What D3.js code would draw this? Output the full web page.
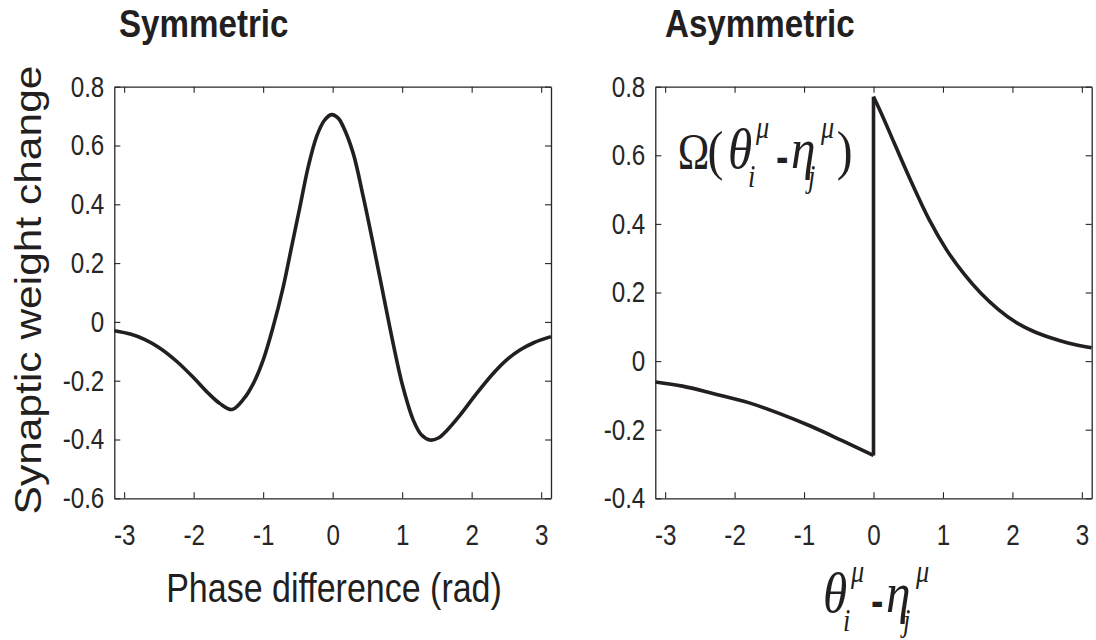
<!DOCTYPE html>
<html lang="en">
<head>
<meta charset="UTF-8">
<title>Synaptic weight change</title>
<style>
  * { margin: 0; padding: 0; }
  body { background: white; }
  svg { display: block; }
</style>
</head>
<body>
<div id="chart-area"></div>
<script src="https://cdn.jsdelivr.net/npm/d3@7/dist/d3.min.js"></script>
<script>
const xTicks = [-3, -2, -1, 0, 1, 2, 3]
const xTickLabels = ['-3', '-2', '-1', '0', '1', '2', '3']
const yTicksSym = [-0.6, -0.4, -0.2, 0, 0.2, 0.4, 0.6, 0.8]
const yTickLabelsSym = ['-0.6', '-0.4', '-0.2', '0', '0.2', '0.4', '0.6', '0.8']
const yTicksAsym = [-0.4, -0.2, 0, 0.2, 0.4, 0.6, 0.8]
const yTickLabelsAsym = ['-0.4', '-0.2', '0', '0.2', '0.4', '0.6', '0.8']

// symmetric window
const phaseSym = [-3.14, -2.9, -2.7, -2.5, -2.25, -2.0, -1.8, -1.62, -1.45, -1.28, -1.14, -1.0, -0.855,
  -0.71, -0.59, -0.47, -0.35, -0.23, -0.12, -0.017, 0.08, 0.15, 0.295, 0.44, 0.58, 0.725, 0.87, 1.01,
  1.16, 1.28, 1.4, 1.52, 1.64, 1.83, 2.05, 2.3, 2.5, 2.7, 2.9, 3.14]
const weightSym = [-0.03, -0.042, -0.06, -0.087, -0.133, -0.19, -0.24, -0.278, -0.298, -0.262, -0.209,
  -0.13, -0.016, 0.12, 0.256, 0.392, 0.529, 0.631, 0.685, 0.705, 0.693, 0.665, 0.574, 0.426, 0.268,
  0.097, -0.073, -0.22, -0.334, -0.385, -0.402, -0.395, -0.37, -0.318, -0.25, -0.178, -0.13, -0.095,
  -0.07, -0.05]

// asymmetric window, two branches either side of the jump at 0
const phaseNeg = [-3.14, -2.75, -2.3, -1.8, -1.35, -0.9, -0.45, 0]
const weightNeg = [-0.061, -0.073, -0.095, -0.121, -0.153, -0.19, -0.232, -0.275]
const phasePos = [0, 0.1, 0.3, 0.55, 0.8, 1.05, 1.3, 1.55, 1.8, 2.05, 2.3, 2.55, 2.8, 3.14]
const weightPos = [0.771, 0.728, 0.635, 0.52, 0.413, 0.325, 0.255, 0.197, 0.15, 0.113, 0.087, 0.068, 0.053, 0.039]

const W = 1096, H = 640
const plotTop = 86.7, plotBottom = 498.3
const ink = '#231f20'
const sans = "'Liberation Sans', Arial, sans-serif"
const serif = "'Liberation Serif', 'Times New Roman', serif"
const squeeze = 0.85

const svg = d3.select('#chart-area').append('svg')
  .attr('width', W)
  .attr('height', H)
  .style('background-color', 'white')

function styleAxis(sel) {
  sel.select('.domain').attr('stroke', '#262626').attr('stroke-width', 1.3)
  sel.selectAll('.tick line').attr('stroke', '#262626').attr('stroke-width', 1.1)
  sel.selectAll('.tick text')
    .attr('fill', '#262626')
    .attr('font-family', sans)
    .attr('font-size', 29.5)
    .attr('transform', `scale(0.82,1)`)
}

function panel(left, right, yDomain, yTicks, yLabels) {
  const x = d3.scaleLinear().domain([-Math.PI, Math.PI]).range([left, right])
  const y = d3.scaleLinear().domain(yDomain).range([plotBottom, plotTop])

  svg.append('g').attr('transform', `translate(0,${plotBottom})`)
    .call(d3.axisBottom(x).tickValues(xTicks).tickFormat((d, i) => xTickLabels[i])
      .tickSizeInner(-6).tickSizeOuter(0).tickPadding(26))
    .call(styleAxis)
  svg.append('g').attr('transform', `translate(0,${plotTop})`)
    .call(d3.axisTop(x).tickValues(xTicks).tickFormat('').tickSizeInner(-6).tickSizeOuter(0))
    .call(styleAxis)
  svg.append('g').attr('transform', `translate(${left},0)`)
    .call(d3.axisLeft(y).tickValues(yTicks).tickFormat((d, i) => yLabels[i])
      .tickSizeInner(-6).tickSizeOuter(0).tickPadding(12.2))
    .call(styleAxis)
  svg.append('g').attr('transform', `translate(${right},0)`)
    .call(d3.axisRight(y).tickValues(yTicks).tickFormat('').tickSizeInner(-6).tickSizeOuter(0))
    .call(styleAxis)

  const line = d3.line().x(d => x(d[0])).y(d => y(d[1]))
  return { x, y, line }
}

function drawCurve(p, pts, curve) {
  svg.append('path')
    .datum(pts)
    .attr('d', p.line.curve(curve)(pts))
    .attr('fill', 'none')
    .attr('stroke', ink)
    .attr('stroke-width', 3.6)
    .attr('stroke-linejoin', 'round')
}

// left: symmetric
const pL = panel(114.3, 551, [-0.6, 0.8], yTicksSym, yTickLabelsSym)
drawCurve(pL, phaseSym.map((v, i) => [v, weightSym[i]]), d3.curveCatmullRom)

// right: asymmetric
const pR = panel(655.3, 1091.7, [-0.4, 0.8], yTicksAsym, yTickLabelsAsym)
const neg = phaseNeg.map((v, i) => [v, weightNeg[i]])
const pos = phasePos.map((v, i) => [v, weightPos[i]])
drawCurve(pR, neg, d3.curveMonotoneX)
drawCurve(pR, [neg[neg.length - 1], pos[0]], d3.curveLinear)
drawCurve(pR, pos, d3.curveMonotoneX)

// titles and labels
function hText(str, x, y, size, weight, anchor) {
  svg.append('text')
    .attr('transform', `translate(${x},${y}) scale(${squeeze},1)`)
    .attr('text-anchor', anchor)
    .attr('font-family', sans)
    .attr('font-size', size)
    .attr('font-weight', weight)
    .attr('fill', ink)
    .text(str)
}
hText('Symmetric', 119, 37, 39, 'bold', 'start')
hText('Asymmetric', 665, 37, 39, 'bold', 'start')
hText('Phase difference (rad)', 334, 602, 40, 'normal', 'middle')

svg.append('text')
  .attr('transform', `translate(41,290) scale(0.86,1) rotate(-90)`)
  .attr('text-anchor', 'middle')
  .attr('font-family', sans)
  .attr('font-size', 42.5)
  .attr('fill', ink)
  .text('Synaptic weight change')

// theta_i^mu - eta_j^mu, pieces: [text, x, y, size, family, style, weight]
const exprPieces = [
  ['θ', 0, 0, 58, serif, 'italic', 'normal'],
  ['i', 23.5, 19, 31, serif, 'italic', 'normal'],
  ['μ', 33, -30, 31, serif, 'italic', 'normal'],
  ['-', 56.5, 4, 44, sans, 'normal', 'bold'],
  ['η', 74, 0, 58, serif, 'italic', 'normal'],
  ['j', 94, 19, 31, serif, 'italic', 'normal'],
  ['μ', 109.4, -30, 31, serif, 'italic', 'normal']
]
function drawExpr(x0, base, pieces) {
  const t = svg.append('text')
    .attr('transform', `translate(${x0},${base}) scale(0.85,1)`)
    .attr('fill', ink)
  pieces.forEach(p => {
    t.append('tspan')
      .attr('x', p[1]).attr('y', p[2])
      .attr('font-size', p[3])
      .attr('font-family', p[4])
      .attr('font-style', p[5])
      .attr('font-weight', p[6])
      .text(p[0])
  })
}
drawExpr(728, 168, [
  ['Ω', -59, 0, 50, serif, 'normal', 'normal'],
  ['(', -24, 1, 56, serif, 'normal', 'normal'],
  ...exprPieces,
  [')', 128, 1, 56, serif, 'normal', 'normal']
])
drawExpr(823, 612, exprPieces)
</script>
</body>
</html>
